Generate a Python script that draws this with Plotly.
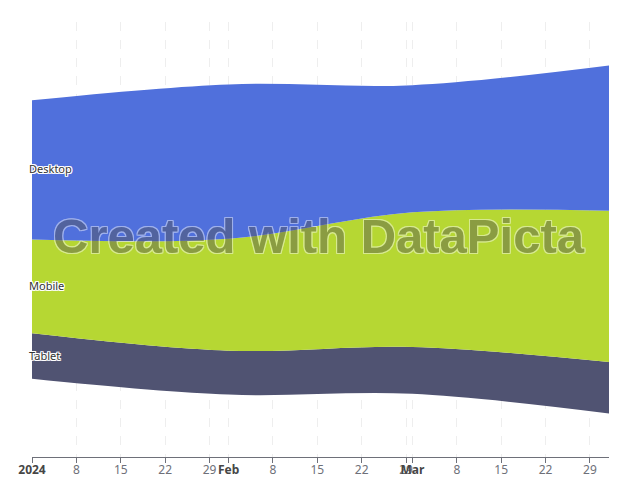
import plotly.graph_objects as go

# ---- data ----
dates = ["2024-01-01", "2024-02-01", "2024-03-01", "2024-04-01"]
series_names = ["Tablet", "Mobile", "Desktop"]          # bottom -> top
tablet = [15, 14.5, 15.5, 17]
mobile = [31, 37, 44.5, 50]
desktop = [46, 51, 42, 48]
colors = {"Tablet": "#505372", "Mobile": "#B6D733", "Desktop": "#5070DC"}

tick_dates = ["2024-01-01", "2024-01-08", "2024-01-15", "2024-01-22", "2024-01-29",
              "2024-02-01", "2024-02-08", "2024-02-15", "2024-02-22", "2024-02-29",
              "2024-03-01", "2024-03-08", "2024-03-15", "2024-03-22", "2024-03-29"]
tick_labels = ["2024", "8", "15", "22", "29", "Feb", "8", "15", "22", "29",
               "Mar", "8", "15", "22", "29"]
bold_labels = {"2024", "Feb", "Mar"}

values = {"Tablet": tablet, "Mobile": mobile, "Desktop": desktop}

# ---- streamgraph (centered / silhouette baseline) ----
totals = [sum(v) for v in zip(tablet, mobile, desktop)]
base = [-t / 2 for t in totals]

fig = go.Figure()
fig.add_trace(go.Scatter(x=dates, y=base, mode="lines", line=dict(width=0, shape="spline"),
                         hoverinfo="skip", showlegend=False))
cum = base[:]
label_pos = {}
for name in series_names:
    vals = values[name]
    top = [c + v for c, v in zip(cum, vals)]
    label_pos[name] = (cum[0] + top[0]) / 2
    fig.add_trace(go.Scatter(x=dates, y=top, mode="lines", name=name,
                             line=dict(width=0, shape="spline", smoothing=1),
                             fill="tonexty", fillcolor=colors[name], showlegend=False))
    cum = top

R = max(totals) / 2 / 0.8

ticktext = []
for t in tick_labels:
    if t in bold_labels:
        ticktext.append(f"<b><span style='color:#464646'>{t}</span></b>")
    else:
        ticktext.append(t)

halo = "1px 1px 0 #fff, -1px -1px 0 #fff, 1px -1px 0 #fff, -1px 1px 0 #fff, 0 1px 0 #fff, 0 -1px 0 #fff, 1px 0 0 #fff, -1px 0 0 #fff"

annotations = []
for name in series_names:
    annotations.append(dict(x=dates[0], y=label_pos[name], xref="x", yref="y",
                            text=name, showarrow=False, xanchor="left", yanchor="middle",
                            xshift=-5, yshift=1,
                            font=dict(family="Noto Sans", size=11, color="#333333", shadow=halo)))

annotations.append(dict(x=0.497, y=0.508, xref="paper", yref="paper",
                        text="Created with DataPicta", showarrow=False,
                        xanchor="center", yanchor="middle", opacity=0.45,
                        font=dict(family="Liberation Sans", size=49, color="#555555",
                                  weight=700, shadow=halo)))

fig.update_layout(
    width=640, height=480,
    margin=dict(l=32, r=31, t=22, b=23),
    paper_bgcolor="white", plot_bgcolor="white",
    showlegend=False,
    annotations=annotations,
    xaxis=dict(type="date", range=[dates[0], dates[-1]],
               tickmode="array", tickvals=tick_dates, ticktext=ticktext,
               tickangle=0, automargin=False, ticklabelstandoff=-3,
               showgrid=True, gridcolor="#EEEEEE", griddash="dash", gridwidth=1,
               showline=True, linecolor="#6E7079", linewidth=1,
               ticks="outside", ticklen=5, tickcolor="#6E7079",
               tickfont=dict(family="Noto Sans", size=12, color="#6E7079"),
               zeroline=False),
    yaxis=dict(visible=False, range=[-R, R], showgrid=False, zeroline=False,
               automargin=False),
)

fig.write_html("out.html", config={"displayModeBar": False},
               post_script="document.body.style.margin='0';document.body.style.overflow='hidden';")
